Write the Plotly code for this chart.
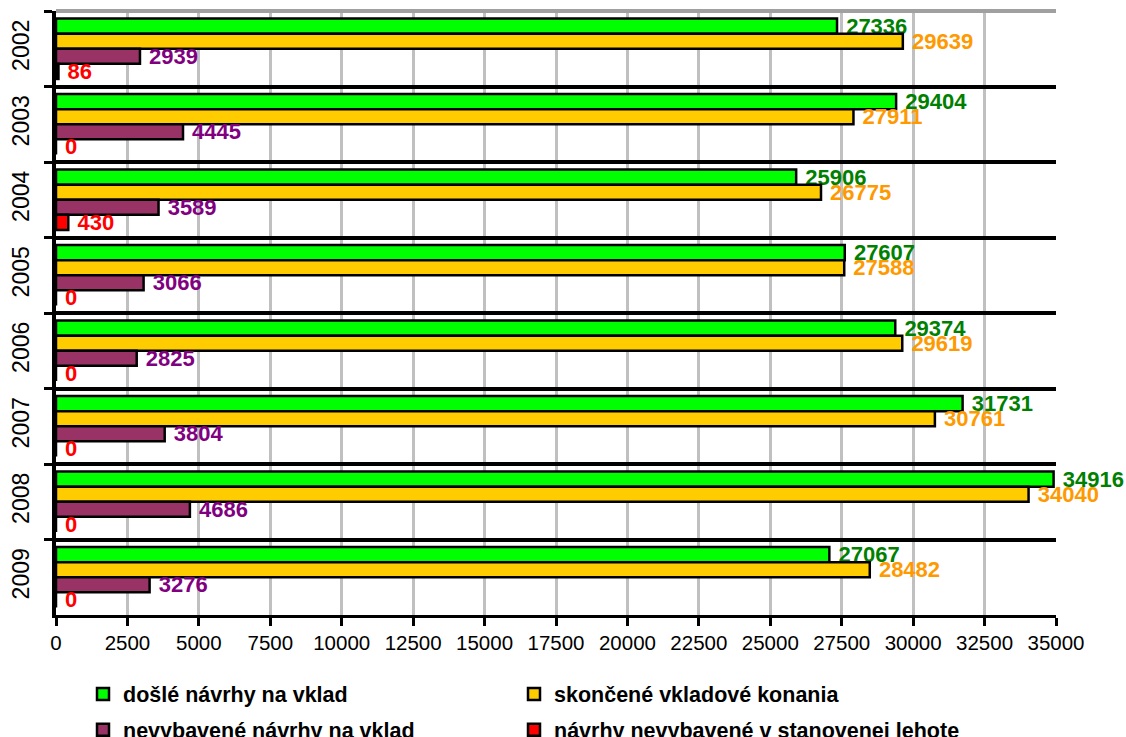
import plotly.graph_objects as go

years = ["2002", "2003", "2004", "2005", "2006", "2007", "2008", "2009"]
dosle = [27336, 29404, 25906, 27607, 29374, 31731, 34916, 27067]
skoncene = [29639, 27911, 26775, 27588, 29619, 30761, 34040, 28482]
nevybavene = [2939, 4445, 3589, 3066, 2825, 3804, 4686, 3276]
lehota = [86, 0, 430, 0, 0, 0, 0, 0]

series = [
    ("došlé návrhy na vklad", dosle, "#00FF00", "#008000"),
    ("skončené vkladové konania", skoncene, "#FFCC00", "#FF9900"),
    ("nevybavené návrhy na vklad", nevybavene, "#993366", "#800080"),
    ("návrhy nevybavené v stanovenej lehote", lehota, "#FF0000", "#FF0000"),
]

# legend cell for each series: (column x in paper coords, row y in paper coords)
legend_cells = [(0.027, -0.131), (0.458, -0.131), (0.027, -0.19), (0.458, -0.19)]

FONT = "Liberation Sans, Arial, sans-serif"

fig = go.Figure()
legends = {}
for i, (name, vals, col, tcol) in enumerate(series):
    key = "legend" if i == 0 else f"legend{i + 1}"
    fig.add_trace(go.Bar(
        y=years, x=vals, orientation="h", name=name, legend=key,
        showlegend=True,
        marker=dict(color=col, line=dict(color="black", width=2.5)),
        text=[str(v) for v in vals], texttemplate=" %{text}",
        textposition="outside",
        constraintext="none", cliponaxis=False,
        textfont=dict(family=FONT, size=22, color=tcol, weight="bold"),
    ))
    lx, ly = legend_cells[i]
    legends[key] = dict(
        orientation="h", x=lx, y=ly, xanchor="left", yanchor="middle",
        font=dict(family=FONT, size=21.5, color="black", weight="bold"),
        itemwidth=30, bgcolor="rgba(0,0,0,0)", visible=True,
    )

fig.update_layout(
    width=1126, height=737, showlegend=True,
    paper_bgcolor="white", plot_bgcolor="white",
    barmode="group", bargap=0.2, bargroupgap=0,
    margin=dict(l=56, r=70, t=11, b=122, autoexpand=False),
    font=dict(family=FONT, color="black"),
    xaxis=dict(
        range=[0, 35000], dtick=2500, tick0=0, tickformat="d",
        showgrid=True, gridcolor="#C0C0C0", gridwidth=2.5,
        showline=True, linecolor="black", linewidth=2.5,
        ticks="outside", ticklen=8, tickcolor="black", tickwidth=2.5,
        tickfont=dict(family=FONT, size=20.5, color="black"),
        zeroline=False, automargin=False,
    ),
    yaxis=dict(
        autorange="reversed", type="category",
        tickson="boundaries", showgrid=True, gridcolor="black", gridwidth=4,
        showline=True, linecolor="black", linewidth=3.5,
        ticks="outside", ticklen=8, tickcolor="black", tickwidth=3,
        tickangle=-90, automargin=False, ticklabelstandoff=14,
        tickfont=dict(family=FONT, size=23, color="black"),
    ),
    shapes=[dict(type="line", xref="paper", yref="paper", x0=0, x1=1, y0=1, y1=1,
                 line=dict(color="#A0A0A0", width=4), layer="above")],
    **legends,
)

fig.write_html(
    "out.html",
    config={"displayModeBar": False},
    post_script="document.body.style.margin='0';document.body.style.overflow='hidden';"
                "document.documentElement.style.overflow='hidden';",
)
